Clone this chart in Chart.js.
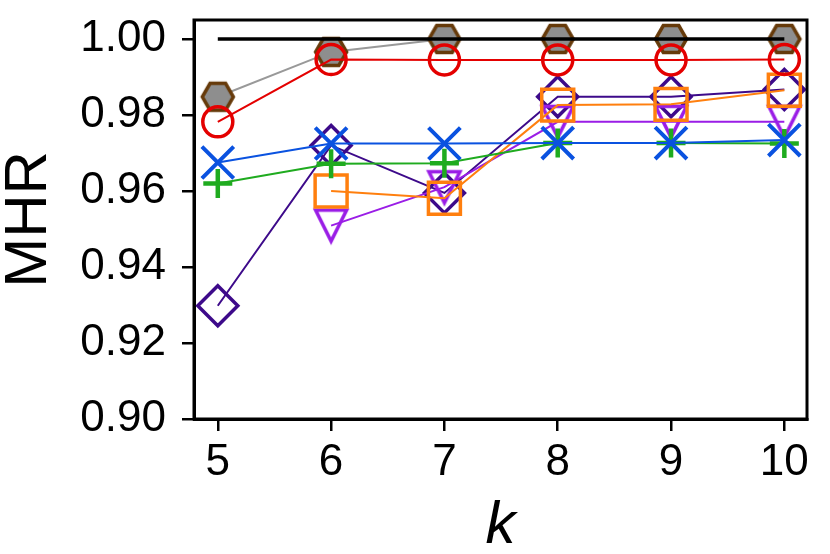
<!DOCTYPE html>
<html>
<head>
<meta charset="utf-8">
<title>MHR vs k</title>
<script src="https://cdn.jsdelivr.net/npm/chart.js@4.4.1/dist/chart.umd.min.js"></script>
<style>
  html, body { margin: 0; padding: 0; background: #fff; }
  #mhrChart { display: block; }
</style>
</head>
<body>
<canvas id="mhrChart" width="830" height="554"></canvas>
<script>
// values
const kValues = [5, 6, 7, 8, 9, 10];
const yTicks = [0.90, 0.92, 0.94, 0.96, 0.98, 1.00];

const upperBound = [1.000, 1.000, 1.000, 1.000, 1.000, 1.000];
const hexSeries = [0.9848, 0.9966, 1.0000, 1.0000, 1.0000, 1.0000];
const circleSeries = [0.9782, 0.9946, 0.9945, 0.9945, 0.9945, 0.9946];
const xSeries = [0.9675, 0.9725, 0.9725, 0.9726, 0.9726, 0.9734];
const plusSeries = [0.9620, 0.9672, 0.9673, 0.9726, 0.9726, 0.9725];
const diamondSeries = [0.9298, 0.9720, 0.9595, 0.9848, 0.9848, 0.9867];
const triangleSeries = [null, 0.9509, 0.9610, 0.9782, 0.9782, 0.9782];
const squareSeries = [null, 0.9600, 0.9581, 0.9826, 0.9828, 0.9865];

function points(values) {
    return kValues
        .map((k, i) => ({ x: k, y: values[i] }))
        .filter(p => p.y !== null);
}

// marker images for shapes Chart.js doesn't have
function makeMarker(size, draw) {
    const c = document.createElement("canvas");
    c.width = size;
    c.height = size;
    const g = c.getContext("2d");
    g.translate(size / 2, size / 2);
    draw(g);
    return c;
}

const hexagon = makeMarker(40, g => {
    const r = 15.5;
    g.beginPath();
    for (let i = 0; i < 6; i++) {
        const a = (Math.PI / 3) * i;
        const px = r * Math.cos(a), py = r * Math.sin(a);
        if (i === 0) g.moveTo(px, py); else g.lineTo(px, py);
    }
    g.closePath();
    g.fillStyle = "#8e8e8e";
    g.fill();
    g.lineWidth = 3.5;
    g.strokeStyle = "#663a0a";
    g.stroke();
});

const downTriangle = makeMarker(40, g => {
    const h = 15.5;
    g.beginPath();
    g.moveTo(-h, -h);
    g.lineTo(h, -h);
    g.lineTo(0, h);
    g.closePath();
    g.lineWidth = 3.5;
    g.lineJoin = "miter";
    g.strokeStyle = "#9a1de6";
    g.stroke();
});

const FONT = "'Liberation Sans', Arial, Helvetica, sans-serif";

function series(data, color, style, opts) {
    return Object.assign({
        data: points(data),
        borderColor: color,
        backgroundColor: "rgba(0,0,0,0)",
        borderWidth: 2,
        pointStyle: style,
        pointBorderColor: color,
        pointBackgroundColor: "rgba(0,0,0,0)",
        pointBorderWidth: 3.5,
        pointRadius: 15,
        pointHoverRadius: 15,
        tension: 0,
        fill: false
    }, opts || {});
}

// box around the plot area
const frame = {
    id: "frame",
    afterDatasetsDraw(chart) {
        const a = chart.chartArea;
        const ctx = chart.ctx;
        ctx.save();
        ctx.strokeStyle = "#000";
        ctx.lineWidth = 3;
        ctx.strokeRect(a.left, a.top, a.right - a.left, a.bottom - a.top);
        ctx.restore();
    }
};

const canvas = document.getElementById("mhrChart");

new Chart(canvas, {
    type: "line",
    data: {
        datasets: [
            series(upperBound, "#000000", false, { borderWidth: 3.5, pointRadius: 0, pointHoverRadius: 0, order: 0 }),
            series(circleSeries, "#e40000", "circle", { order: 1 }),
            series(hexSeries, "#999999", hexagon, { order: 2 }),
            series(xSeries, "#0a52e0", "crossRot", { pointRadius: 22.5, pointHoverRadius: 22.5, pointBorderWidth: 4, order: 3 }),
            series(plusSeries, "#1fab1f", "cross", { pointRadius: 14.5, pointHoverRadius: 14.5, pointBorderWidth: 4.5, order: 4 }),
            series(squareSeries, "#ff7f0e", "rect", { pointRadius: 22.6, pointHoverRadius: 22.6, order: 5 }),
            series(triangleSeries, "#9a1de6", downTriangle, { order: 6 }),
            series(diamondSeries, "#3d0a8a", "rectRot", { pointRadius: 20, pointHoverRadius: 20, order: 7 })
        ]
    },
    options: {
        responsive: false,
        animation: false,
        events: [],
        layout: {
            autoPadding: false,
            padding: { top: 20, right: 23, left: 0, bottom: 0 }
        },
        plugins: {
            legend: { display: false },
            tooltip: { enabled: false }
        },
        scales: {
            x: {
                type: "linear",
                min: 4.79,
                max: 10.2,
                afterBuildTicks: scale => {
                    scale.ticks = kValues.map(v => ({ value: v }));
                },
                afterFit: scale => {
                    scale.height = 135;
                    scale.paddingLeft = 0;
                    scale.paddingRight = 0;
                },
                grid: {
                    drawOnChartArea: false,
                    drawTicks: true,
                    tickLength: 12,
                    color: "#000",
                    lineWidth: 2.5
                },
                border: { display: true, color: "#000", width: 3 },
                ticks: {
                    color: "#000",
                    padding: 5,
                    maxRotation: 0,
                    font: { family: FONT, size: 44 },
                    callback: v => String(v)
                },
                title: {
                    display: true,
                    text: "k",
                    color: "#000",
                    padding: { top: 0, bottom: 1 },
                    font: { family: FONT, size: 60, style: "italic", lineHeight: 0.9 }
                }
            },
            y: {
                type: "linear",
                min: 0.90,
                max: 1.005,
                afterBuildTicks: scale => {
                    scale.ticks = yTicks.map(v => ({ value: v }));
                },
                afterFit: scale => {
                    scale.width = 194;
                    scale.paddingTop = 0;
                    scale.paddingBottom = 0;
                },
                grid: {
                    drawOnChartArea: false,
                    drawTicks: true,
                    tickLength: 12,
                    color: "#000",
                    lineWidth: 2.5
                },
                border: { display: true, color: "#000", width: 3 },
                ticks: {
                    color: "#000",
                    padding: 16,
                    font: { family: FONT, size: 44 },
                    callback: v => Number(v).toFixed(2)
                },
                title: {
                    display: true,
                    text: "MHR",
                    color: "#000",
                    padding: { top: 2, bottom: 0 },
                    font: { family: FONT, size: 60, lineHeight: 0.9 }
                }
            }
        }
    },
    plugins: [frame]
});
</script>
</body>
</html>
